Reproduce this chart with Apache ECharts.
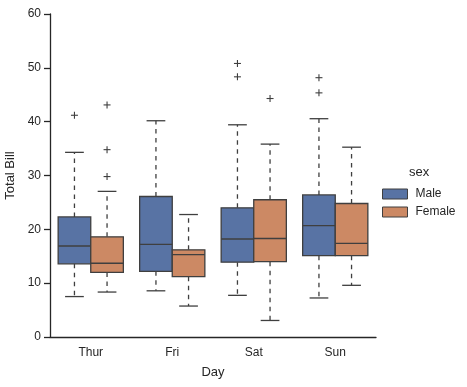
<!DOCTYPE html>
<html><head><meta charset="utf-8">
<script src="https://cdn.jsdelivr.net/npm/echarts@6/dist/echarts.min.js"></script>
<style>html,body{margin:0;padding:0;background:#fff}#c{width:467px;height:387px}</style>
</head><body><div id="c"></div>
<script>
const days = ['Thur', 'Fri', 'Sat', 'Sun'];
const yTicks = [0, 10, 20, 30, 40, 50, 60];
const maleMin = [7.51, 8.58, 7.74, 7.25];
const maleQ1 = [13.6, 12.2, 13.9, 15.1];
const maleMedian = [16.9, 17.2, 18.2, 20.7];
const maleQ3 = [22.3, 26.1, 24.0, 26.4];
const maleMax = [34.3, 40.17, 39.42, 40.55];
const femaleMin = [8.35, 5.75, 3.07, 9.6];
const femaleQ1 = [12.0, 11.2, 14.0, 15.1];
const femaleMedian = [13.7, 15.3, 18.3, 17.4];
const femaleQ3 = [18.6, 16.2, 25.5, 24.8];
const femaleMax = [27.05, 22.75, 35.83, 35.26];
const maleOutliers = [[0, 41.19], [2, 48.33], [2, 50.81], [3, 45.35], [3, 48.17]];
const femaleOutliers = [[0, 29.8], [0, 34.8], [0, 43.11], [2, 44.3]];

const maleColor = '#5873A4';
const femaleColor = '#CC8964';
const lineColor = '#3f3f3f';

function boxData(mn, q1, md, q3, mx) {
  return days.map((d, i) => [i, mn[i], q1[i], md[i], q3[i], mx[i]]);
}

function boxRenderer(offset, color) {
  return function (params, api) {
    const cat = api.value(0);
    const band = api.size([1, 0])[0];
    const cx = api.coord([cat, 0])[0] + offset * band;
    const bw = 0.4 * band;
    const capW = 0.23 * band;
    const yMin = api.coord([cat, api.value(1)])[1];
    const yQ1 = api.coord([cat, api.value(2)])[1];
    const yMed = api.coord([cat, api.value(3)])[1];
    const yQ3 = api.coord([cat, api.value(4)])[1];
    const yMax = api.coord([cat, api.value(5)])[1];
    const ls = { stroke: lineColor, lineWidth: 1.3 };
    return {
      type: 'group',
      children: [
        { type: 'line', shape: { x1: cx, y1: yQ3, x2: cx, y2: yMax }, style: Object.assign({ lineDash: [4.5, 4.5] }, ls) },
        { type: 'line', shape: { x1: cx, y1: yQ1, x2: cx, y2: yMin }, style: Object.assign({ lineDash: [4.5, 4.5] }, ls) },
        { type: 'line', shape: { x1: cx - capW / 2, y1: yMax, x2: cx + capW / 2, y2: yMax }, style: ls },
        { type: 'line', shape: { x1: cx - capW / 2, y1: yMin, x2: cx + capW / 2, y2: yMin }, style: ls },
        { type: 'rect', shape: { x: cx - bw / 2, y: yQ3, width: bw, height: yQ1 - yQ3 }, style: { fill: color, stroke: lineColor, lineWidth: 1.3 } },
        { type: 'line', shape: { x1: cx - bw / 2, y1: yMed, x2: cx + bw / 2, y2: yMed }, style: ls }
      ]
    };
  };
}

function outlierRenderer(offset) {
  return function (params, api) {
    const cat = api.value(0);
    const band = api.size([1, 0])[0];
    const p = api.coord([cat, api.value(1)]);
    const cx = p[0] + offset * band;
    const cy = p[1];
    const s = 3.5;
    const ls = { stroke: lineColor, lineWidth: 1.1 };
    return {
      type: 'group',
      children: [
        { type: 'line', shape: { x1: cx - s, y1: cy, x2: cx + s, y2: cy }, style: ls },
        { type: 'line', shape: { x1: cx, y1: cy - s, x2: cx, y2: cy + s }, style: ls }
      ]
    };
  };
}

const chart = echarts.init(document.getElementById('c'), null, { renderer: 'canvas' });
const font = 'Liberation Sans, Arial, sans-serif';
chart.setOption({
  animation: false,
  textStyle: { fontFamily: font },
  grid: { left: 50, right: 91, top: 14, bottom: 50, containLabel: false, outerBoundsMode: 'none' },
  xAxis: {
    type: 'category', data: days,
    name: 'Day', nameLocation: 'middle', nameGap: 29,
    nameTextStyle: { color: '#262626', fontSize: 13, fontFamily: font },
    axisLine: { lineStyle: { color: '#262626', width: 1.3 } },
    axisTick: { alignWithLabel: true, length: 6, lineStyle: { color: '#262626', width: 1.3 } },
    axisLabel: { color: '#262626', fontSize: 12, margin: 10, fontFamily: font },
    splitLine: { show: false }
  },
  yAxis: {
    type: 'value', min: yTicks[0], max: yTicks[yTicks.length - 1], interval: 10,
    name: 'Total Bill', nameLocation: 'middle', nameGap: 29,
    nameTextStyle: { color: '#262626', fontSize: 13, fontFamily: font },
    axisLine: { show: true, lineStyle: { color: '#262626', width: 1.3 } },
    axisTick: { show: true, length: 6, lineStyle: { color: '#262626', width: 1.3 } },
    axisLabel: { color: '#262626', fontSize: 12, margin: 9, fontFamily: font },
    splitLine: { show: false }
  },
  legend: {
    data: ['Male', 'Female'], orient: 'vertical', left: 382, top: 188, padding: 0,
    icon: 'rect', itemWidth: 25, itemHeight: 10, itemGap: 6,
    textStyle: { color: '#262626', fontSize: 12, fontFamily: font, padding: [0, 0, 0, 3] },
    itemStyle: { borderColor: lineColor, borderWidth: 1 }
  },
  graphic: [{ type: 'text', left: 409, top: 166, style: { text: 'sex', fill: '#262626', font: '13px ' + font } }],
  series: [
    { name: 'Male', type: 'custom', renderItem: boxRenderer(-0.2, maleColor), encode: { x: 0, y: [1, 2, 3, 4, 5] },
      itemStyle: { color: maleColor, borderColor: lineColor, borderWidth: 1 }, data: boxData(maleMin, maleQ1, maleMedian, maleQ3, maleMax) },
    { name: 'Female', type: 'custom', renderItem: boxRenderer(0.2, femaleColor), encode: { x: 0, y: [1, 2, 3, 4, 5] },
      itemStyle: { color: femaleColor, borderColor: lineColor, borderWidth: 1 }, data: boxData(femaleMin, femaleQ1, femaleMedian, femaleQ3, femaleMax) },
    { name: 'MaleOutliers', type: 'custom', renderItem: outlierRenderer(-0.2), encode: { x: 0, y: 1 }, data: maleOutliers },
    { name: 'FemaleOutliers', type: 'custom', renderItem: outlierRenderer(0.2), encode: { x: 0, y: 1 }, data: femaleOutliers }
  ]
});
</script></body></html>
